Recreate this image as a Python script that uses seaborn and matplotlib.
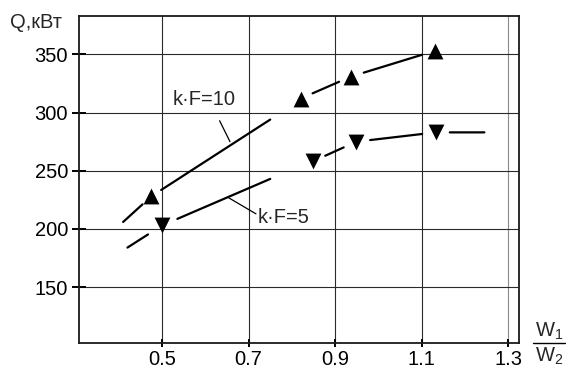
import matplotlib
matplotlib.use('Agg')
import matplotlib.pyplot as plt
import seaborn as sns
import pandas as pd
from matplotlib.lines import Line2D

# ---------------- data ----------------
x_ticks = [0.5, 0.7, 0.9, 1.1, 1.3]
x_tick_labels = ['0.5', '0.7', '0.9', '1.1', '1.3']
y_ticks = [150, 200, 250, 300, 350]

# calculated curves (left group): dashed extension -> marked point -> solid line
kf10_x = [0.41, 0.475, 0.75]
kf10_y = [206, 228, 294]
kf5_x = [0.42, 0.50, 0.75]
kf5_y = [184, 203, 243]

# experimental curves (right group)
up_x = [0.82, 0.937, 1.13]
up_y = [312, 331, 353]
down_x = [0.848, 0.949, 1.133, 1.245]
down_y = [258, 275, 283, 283]

# markers
up_marker_x = [0.475, 0.82, 0.937, 1.13]
up_marker_y = [228, 312, 331, 353]
down_marker_x = [0.50, 0.848, 0.949, 1.133]
down_marker_y = [203, 258, 275, 283]

# labels with leader lines
label10 = 'k·F=10'
label10_pos = (0.597, 311)
leader10_x = [0.633, 0.657]
leader10_y = [293, 275]
label5 = 'k·F=5'
label5_pos = (0.722, 210)
leader5_x = [0.653, 0.717]
leader5_y = [227, 213]

# ---------------- style ----------------
sns.set_theme(style='white')
plt.rcParams['font.family'] = ['Liberation Sans', 'DejaVu Sans']
plt.rcParams['mathtext.fontset'] = 'custom'
plt.rcParams['mathtext.rm'] = 'Liberation Sans'
plt.rcParams['mathtext.it'] = 'Liberation Sans'

FS = 14.5
fig = plt.figure(figsize=(5.66, 3.70), dpi=100)
ax = fig.add_axes([79 / 566, 1 - 343 / 370, (519 - 79) / 566, (343 - 16) / 370])

ax.set_xlim(0.308, 1.325)
ax.set_ylim(102, 383)

ax.set_xticks(x_ticks)
ax.set_xticklabels(x_tick_labels)
ax.set_yticks(y_ticks)
ax.tick_params(axis='x', direction='inout', length=6, width=1.4, pad=2,
               labelsize=FS, colors='black', bottom=True)
ax.tick_params(axis='y', direction='inout', length=10, width=1.4, pad=3,
               labelsize=FS, colors='black', left=True)
ax.grid(True, color='#2a2a2a', lw=0.8)
ax.get_xgridlines()[-1].set_color('#8a8a8a')
for s in ax.spines.values():
    s.set_color('#1a1a1a')
    s.set_linewidth(1.3)

LW = 1.6


def gapped(xs, ys, marked, gap):
    for i in range(len(xs) - 1):
        ax.annotate('', xy=(xs[i + 1], ys[i + 1]), xytext=(xs[i], ys[i]),
                    arrowprops=dict(arrowstyle='-', color='black', lw=LW,
                                    shrinkA=gap if marked[i] else 0,
                                    shrinkB=gap if marked[i + 1] else 0))


gapped(kf10_x, kf10_y, [False, True, False], 8.5)
gapped(kf5_x, kf5_y, [False, True, False], 12)
gapped(up_x, up_y, [True, True, True], 9.5)
gapped(down_x, down_y, [True, True, True, False], 10)

df_up = pd.DataFrame({'x': up_marker_x, 'y': up_marker_y})
df_dn = pd.DataFrame({'x': down_marker_x, 'y': down_marker_y})
sns.scatterplot(data=df_up, x='x', y='y', marker='^', s=130, color='black',
                linewidth=0, ax=ax, zorder=5)
sns.scatterplot(data=df_dn, x='x', y='y', marker='v', s=130, color='black',
                linewidth=0, ax=ax, zorder=5)

sns.lineplot(x=leader10_x, y=leader10_y, color='black', lw=0.9, ax=ax)
sns.lineplot(x=leader5_x, y=leader5_y, color='black', lw=0.9, ax=ax)
ax.text(*label10_pos, label10, fontsize=FS, ha='center', va='center')
ax.text(*label5_pos, label5, fontsize=FS, ha='left', va='center')

ax.set_xlabel('')
ax.set_ylabel('')

fig.text(10 / 566, 1 - 23 / 370, 'Q,кВт', fontsize=FS, ha='left', va='center')
fig.text(549 / 566, 1 - 331 / 370, r'$\mathregular{W_1}$', fontsize=FS,
         ha='center', va='center')
fig.text(549 / 566, 1 - 356 / 370, r'$\mathregular{W_2}$', fontsize=FS,
         ha='center', va='center')
fig.add_artist(Line2D([533 / 566, 565 / 566], [1 - 343 / 370, 1 - 343 / 370],
                      transform=fig.transFigure, color='black', lw=1.0))

fig.savefig('out.png', dpi=100)
